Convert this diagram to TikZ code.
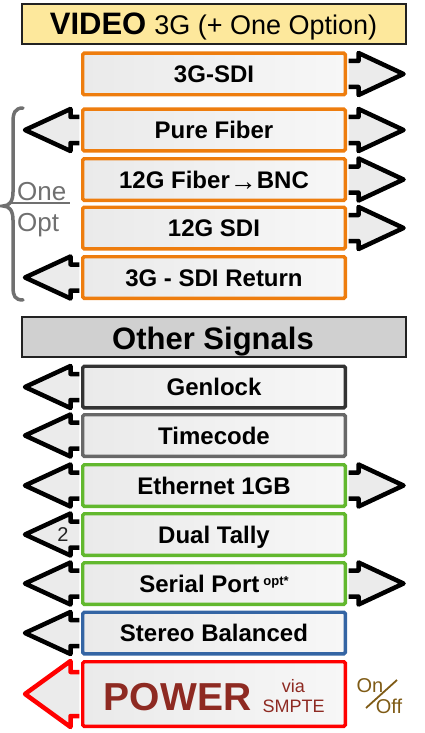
\documentclass[tikz,border=0pt]{standalone}
\usepackage{fontspec}
\setmainfont{Liberation Sans}
\usetikzlibrary{calc}
\definecolor{orng}{HTML}{EE7D0E}
\definecolor{grn}{HTML}{62B82E}
\definecolor{blu}{HTML}{3465A4}
\definecolor{dkgray}{HTML}{333333}
\definecolor{mdgray}{HTML}{686868}
\definecolor{hdry}{HTML}{FDE89C}
\definecolor{hdrg}{HTML}{D0D0D0}
\definecolor{hdrline}{HTML}{222222}
\definecolor{arrfill}{HTML}{EBEBEB}
\definecolor{bxl}{HTML}{EAEAEA}
\definecolor{bxr}{HTML}{F7F7F7}
\definecolor{pwtxt}{HTML}{8E2A22}
\definecolor{onoff}{HTML}{7F5B16}
\definecolor{optgray}{HTML}{707070}
\definecolor{pwred}{HTML}{FF0000}
\tikzset{
  sigbox/.style={draw=#1, line width=3.4pt, rounded corners=1.5pt, left color=bxl, right color=bxr,
    minimum width=262.6pt, minimum height=41.6pt, inner sep=0pt, text height=17pt, text depth=0pt,
    font=\fontsize{24}{28}\selectfont\bfseries},
  hdrbox/.style={draw=hdrline, fill=#1, line width=2pt, minimum width=384pt, minimum height=40pt, inner sep=0pt},
  arrline/.style={fill=arrfill, draw=#1, line width=4.5pt, line join=round},
  opttext/.style={text=optgray, font=\fontsize{26}{28}\selectfont, inner sep=0pt},
}
\newcommand\sigleft[2][black]{%
  \filldraw[arrline=#1] ($(#2.west)+(-1.7,-13)$) -- ($(#2.west)+(-10.5,-13)$) -- ($(#2.west)+(-10.5,-21)$)
    -- ($(#2.west)+(-56,0)$) -- ($(#2.west)+(-10.5,21)$) -- ($(#2.west)+(-10.5,13)$) -- ($(#2.west)+(-1.7,13)$);}
\newcommand\sigright[1]{%
  \filldraw[arrline=black] ($(#1.east)+(1.7,-13)$) -- ($(#1.east)+(11.5,-13)$) -- ($(#1.east)+(11.5,-21)$)
    -- ($(#1.east)+(56.5,0)$) -- ($(#1.east)+(11.5,21)$) -- ($(#1.east)+(11.5,13)$) -- ($(#1.east)+(1.7,13)$);}
\begin{document}
\begin{tikzpicture}[x=1pt,y=-1pt]
\useasboundingbox (0,0) rectangle (425,733);
% headers
\node[hdrbox=hdry] (hv) at (214,24) {};
\node[anchor=base, inner sep=0pt] (hvt) at (213.5,35) {{\fontsize{31}{31}\selectfont\bfseries VIDEO}\hspace{8pt}{\fontsize{27}{30}\selectfont 3G (+ One Option)}};
\node[hdrbox=hdrg] (ho) at (214,337) {};
\node[anchor=base, inner sep=0pt, font=\fontsize{31}{31}\selectfont\bfseries] (hot) at (213,349) {Other Signals};
% video boxes
\node[sigbox=orng] (sdi) at (214,74) {3G-SDI};
\node[sigbox=orng] (pf) at (214,130) {Pure Fiber};
\node[sigbox=orng] (fb) at (214,179.5) {12G Fiber\raisebox{-2pt}{\fontsize{27}{27}\selectfont\mdseries →}BNC};
\node[sigbox=orng] (sdit) at (214,228) {12G SDI};
\node[sigbox=orng] (ret) at (214,277.5) {3G - SDI Return};
% other boxes
\node[sigbox=dkgray] (gen) at (214,387) {Genlock};
\node[sigbox=mdgray] (tc) at (214,435.5) {Timecode};
\node[sigbox=grn] (eth) at (214,485.5) {Ethernet 1GB};
\node[sigbox=grn] (dt) at (214,534.5) {Dual Tally};
\node[sigbox=grn] (ser) at (214,583.5) {Serial Port\hspace{4pt}\raisebox{7pt}{\fontsize{13}{13}\selectfont opt*}};
\node[sigbox=blu] (st) at (214,633) {Stereo Balanced};
\node[sigbox=pwred, minimum height=64.6pt] (pw) at (214,694) {};
% arrows
\sigright{sdi}
\sigleft{pf}\sigright{pf}
\sigright{fb}
\sigright{sdit}
\sigleft{ret}
\sigleft{gen}
\sigleft{tc}
\sigleft{eth}\sigright{eth}
\sigleft{dt}
\sigleft{ser}\sigright{ser}
\sigleft{st}
\filldraw[arrline=pwred] ($(pw.west)+(-1.7,-22)$) -- ($(pw.west)+(-10.5,-22)$) -- ($(pw.west)+(-10.5,-33)$)
    -- ($(pw.west)+(-56,0)$) -- ($(pw.west)+(-10.5,33)$) -- ($(pw.west)+(-10.5,22)$) -- ($(pw.west)+(-1.7,22)$);
\node[font=\fontsize{20}{20}\selectfont, text=hdrline, inner sep=0pt] (two) at (63,535) {2};
% power texts
\node[anchor=base, inner sep=0pt, text=pwtxt, font=\fontsize{39}{39}\selectfont\bfseries] (pwt) at (177.5,710) {POWER};
\node[anchor=base, inner sep=0pt, text=pwtxt, font=\fontsize{18}{18}\selectfont] (via) at (293.5,692) {via};
\node[anchor=base, inner sep=0pt, text=pwtxt, font=\fontsize{18}{18}\selectfont] (smpte) at (293.5,712) {SMPTE};
\node[anchor=base, inner sep=0pt, text=onoff, font=\fontsize{20}{20}\selectfont] (on) at (370,692) {On};
\node[anchor=base, inner sep=0pt, text=onoff, font=\fontsize{20}{20}\selectfont] (off) at (389,713) {Off};
\draw[onoff, line width=1.8pt] (366,708) -- (397,680);
% brace and one option
\draw[optgray, line width=3.5pt, line cap=round] (23,108) .. controls (15,108) and (13,113) .. (13,122) -- (13,192)
  .. controls (13,202) and (9,206) .. (3,206) .. controls (9,206) and (13,210) .. (13,220) -- (13,287)
  .. controls (13,296) and (15,300) .. (23,300);
\draw[optgray, line width=1.5pt] (8,203) -- (70,203);
\node[opttext, anchor=base west] (one) at (17,200) {One};
\node[opttext, anchor=base west] (opt) at (17,231) {Opt};
\end{tikzpicture}
\end{document}
